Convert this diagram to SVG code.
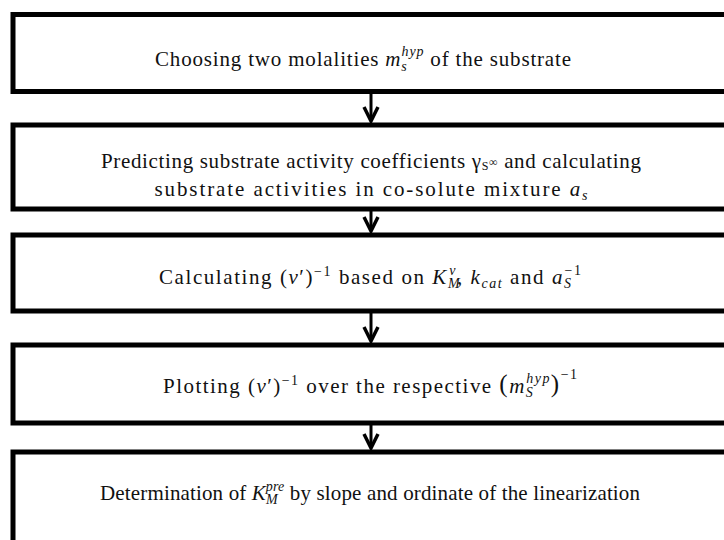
<svg xmlns="http://www.w3.org/2000/svg" width="724" height="540" viewBox="0 0 724 540">
  <style>
    .box { fill: #ffffff; stroke: #000000; stroke-width: 5; }
    .label { font-family: "Liberation Serif", "Times New Roman", serif; font-size: 21px; fill: #111111; text-anchor: middle; }
    .it { font-style: italic; }
    .sup { font-size: 14px; font-style: italic; }
    .stem { stroke: #000000; stroke-width: 3; fill: none; }
    .head { stroke: #000000; stroke-width: 3.5; fill: none; stroke-linejoin: miter; }
  </style>
  <rect x="0" y="0" width="724" height="540" fill="#ffffff"/>

  <g id="step1">
    <rect class="box" x="13" y="14.5" width="720" height="77"/>
    <text class="label" x="363" y="66" textLength="416" lengthAdjust="spacing">Choosing two molalities <tspan class="it">m</tspan><tspan class="sup" dy="5">s</tspan><tspan class="sup" dx="-6" dy="-15">hyp</tspan><tspan dy="10"> of the substrate</tspan></text>
  </g>

  <g id="step2">
    <rect class="box" x="13" y="125" width="720" height="84"/>
    <text class="label" x="371" y="168" textLength="540" lengthAdjust="spacing">Predicting substrate activity coefficients γ<tspan font-size="12" dy="2">S</tspan><tspan font-size="12" dy="-4">∞</tspan><tspan dy="2"> and calculating</tspan></text>
    <text class="label" x="371" y="196" textLength="433" lengthAdjust="spacing">substrate activities in co-solute mixture <tspan class="it">a</tspan><tspan class="sup" dy="4">s</tspan></text>
  </g>

  <g id="step3">
    <rect class="box" x="13" y="235" width="720" height="76"/>
    <text class="label" x="370" y="284" textLength="422" lengthAdjust="spacing">Calculating (<tspan class="it">ν</tspan>′)<tspan font-size="14" dy="-8">−1</tspan><tspan dy="8"> based on </tspan><tspan class="it">K</tspan><tspan class="sup" dy="4">M</tspan><tspan class="sup" dx="-12" dy="-13">ν</tspan><tspan dy="9">, </tspan><tspan class="it">k</tspan><tspan class="sup" dy="4">cat</tspan><tspan dy="-4"> and </tspan><tspan class="it">a</tspan><tspan class="sup" dy="4">S</tspan><tspan font-size="14" dx="-8" dy="-13">−1</tspan></text>
  </g>

  <g id="step4">
    <rect class="box" x="13" y="345" width="720" height="78"/>
    <text class="label" x="370" y="393" textLength="414" lengthAdjust="spacing">Plotting (<tspan class="it">ν</tspan>′)<tspan font-size="14" dy="-8">−1</tspan><tspan dy="8"> over the respective </tspan><tspan font-size="25" dy="-1">(</tspan><tspan class="it" dy="1">m</tspan><tspan class="sup" dy="4">S</tspan><tspan class="sup" dx="-8" dy="-14">hyp</tspan><tspan font-size="25" dy="9">)</tspan><tspan font-size="14" dy="-13">−1</tspan></text>
  </g>

  <g id="step5">
    <rect class="box" x="13" y="452" width="720" height="100"/>
    <text class="label" x="370" y="500" textLength="540" lengthAdjust="spacing">Determination of <tspan class="it">K</tspan><tspan class="sup" dy="4">M</tspan><tspan class="sup" dx="-12" dy="-13">pre</tspan><tspan dy="9"> by slope and ordinate of the linearization</tspan></text>
  </g>

  <g id="connectors">
    <line class="stem" x1="371" y1="94" x2="371" y2="121"/>
    <polyline class="head" points="364,107 371,121 378,107"/>
    <line class="stem" x1="371" y1="211" x2="371" y2="231"/>
    <polyline class="head" points="364,217 371,231 378,217"/>
    <line class="stem" x1="371" y1="313" x2="371" y2="341"/>
    <polyline class="head" points="364,327 371,341 378,327"/>
    <line class="stem" x1="371" y1="425" x2="371" y2="448"/>
    <polyline class="head" points="364,434 371,448 378,434"/>
  </g>
</svg>
